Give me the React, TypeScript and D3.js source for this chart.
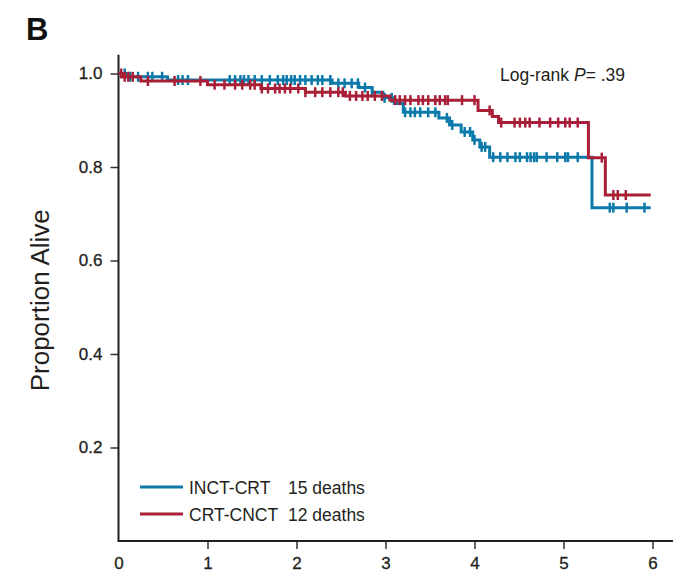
import React, { useEffect, useRef } from 'react';
import * as d3 from 'd3';

// axis ticks
const xTickValues = [0, 1, 2, 3, 4, 5, 6];
const yTickValues = [0.2, 0.4, 0.6, 0.8, 1.0];

// INCT-CRT (15 deaths)
const inctEventTimes = [0.08, 0.55, 2.4, 2.7, 2.85, 2.97, 3.1, 3.2, 3.6, 3.72, 3.85, 3.98, 4.06, 4.17, 5.32];
const inctSurvival = [0.993, 0.986, 0.979, 0.97, 0.96, 0.948, 0.936, 0.917, 0.905, 0.89, 0.875, 0.858, 0.843, 0.821, 0.713];
const inctCensorTimes = [
  0.07, 0.13, 0.22, 0.33, 0.38, 0.49, 0.67, 0.72, 0.78, 1.25, 1.31, 1.37, 1.41, 1.46, 1.53, 1.61, 1.7,
  1.79, 1.85, 1.89, 1.94, 1.98, 2.04, 2.1, 2.17, 2.24, 2.29, 2.38, 2.47, 2.54, 2.62, 2.69, 2.77, 2.85,
  2.99, 3.07, 3.22, 3.28, 3.33, 3.39, 3.48, 3.56, 3.69, 3.75, 3.89, 3.95, 4.0, 4.08, 4.12, 4.21, 4.29,
  4.37, 4.46, 4.51, 4.59, 4.63, 4.67, 4.7, 4.81, 4.93, 5.02, 5.05, 5.16, 5.52, 5.56, 5.71, 5.91,
];
const inctLastFollowUp = 5.98;

// CRT-CNCT (12 deaths)
const cnctEventTimes = [0.05, 0.25, 1.0, 1.6, 2.1, 2.55, 3.05, 4.04, 4.2, 4.27, 5.28, 5.47];
const cnctSurvival = [0.993, 0.984, 0.976, 0.968, 0.96, 0.952, 0.943, 0.921, 0.908, 0.895, 0.82, 0.74];
const cnctCensorTimes = [
  0.03, 0.07, 0.11, 0.16, 0.33, 0.63, 0.92, 1.08, 1.19, 1.31, 1.39, 1.48, 1.53, 1.61, 1.68, 1.76, 1.81,
  1.87, 1.93, 2.02, 2.1, 2.21, 2.29, 2.38, 2.47, 2.52, 2.6, 2.67, 2.74, 2.8, 2.88, 2.96, 3.11, 3.16,
  3.22, 3.28, 3.37, 3.42, 3.48, 3.56, 3.61, 3.67, 3.7, 3.86, 4.0, 4.17, 4.3, 4.45, 4.51, 4.57, 4.62,
  4.73, 4.85, 4.94, 5.02, 5.07, 5.16, 5.43, 5.56, 5.61, 5.7,
];
const cnctLastFollowUp = 5.98;

const seriesNames = ['INCT-CRT', 'CRT-CNCT'];
const seriesDeaths = ['15 deaths', '12 deaths'];
const seriesColors = ['#0b7aaa', '#a81f37'];

const W = 685;
const H = 581;
const FONT = '"Liberation Sans", Arial, Helvetica, sans-serif';
const INK = '#231f20';

const survivalAt = (times: number[], surv: number[], t: number) => {
  let s = 1;
  for (let i = 0; i < times.length; i++) if (times[i] <= t) s = surv[i];
  return s;
};

const App = () => {
  const svgRef = useRef<SVGSVGElement>(null);

  useEffect(() => {
    const svg = d3.select(svgRef.current);
    svg.selectAll('*').remove();

    const x = d3.scaleLinear().domain([0, 6]).range([118.5, 652.5]);
    const y = d3.scaleLinear().domain([0, 1]).range([541, 73.5]);

    // axes
    const xAxis = svg.append('g')
      .attr('transform', `translate(0,${y(0)})`)
      .call(d3.axisBottom(x).tickValues(xTickValues).tickFormat(d3.format('d')).tickSize(8).tickPadding(8).tickSizeOuter(0));
    xAxis.select('.domain').remove();
    xAxis.selectAll('.tick line').attr('stroke', '#333').attr('stroke-width', 1.5)
      .filter((d: any) => d === 0).remove();
    xAxis.selectAll('.tick text')
      .style('font-family', FONT).style('font-size', '17px')
      .attr('fill', INK).attr('stroke', INK).attr('stroke-width', 0.3);

    const yAxis = svg.append('g')
      .attr('transform', `translate(${x(0)},0)`)
      .call(d3.axisLeft(y).tickValues(yTickValues).tickFormat(d3.format('.1f')).tickSize(8).tickPadding(8).tickSizeOuter(0));
    yAxis.select('.domain').remove();
    yAxis.selectAll('.tick line').attr('stroke', '#333').attr('stroke-width', 1.5);
    yAxis.selectAll('.tick text')
      .style('font-family', FONT).style('font-size', '17px')
      .attr('fill', INK).attr('stroke', INK).attr('stroke-width', 0.3);

    svg.append('path')
      .attr('d', `M${x(0)},${y(1.04)}V${y(0)}H${x(6.23)}`)
      .attr('fill', 'none')
      .attr('stroke', INK)
      .attr('stroke-width', 2);

    // curves
    const line = d3.line<[number, number]>()
      .x(d => x(d[0]))
      .y(d => y(d[1]))
      .curve(d3.curveStepAfter);

    const groups = [
      { times: inctEventTimes, surv: inctSurvival, censor: inctCensorTimes, end: inctLastFollowUp },
      { times: cnctEventTimes, surv: cnctSurvival, censor: cnctCensorTimes, end: cnctLastFollowUp },
    ];

    groups.forEach((g, i) => {
      const pts: [number, number][] = [[0, 1]];
      g.times.forEach((t, k) => pts.push([t, g.surv[k]]));
      pts.push([g.end, g.surv[g.surv.length - 1]]);

      svg.append('path')
        .attr('d', line(pts))
        .attr('fill', 'none')
        .attr('stroke', seriesColors[i])
        .attr('stroke-width', 3);

      svg.append('g')
        .selectAll('line')
        .data(g.censor)
        .enter()
        .append('line')
        .attr('x1', d => x(d))
        .attr('x2', d => x(d))
        .attr('y1', d => y(survivalAt(g.times, g.surv, d)) - 5)
        .attr('y2', d => y(survivalAt(g.times, g.surv, d)) + 5)
        .attr('stroke', seriesColors[i])
        .attr('stroke-width', 2.5);
    });

    // legend
    const legend = svg.append('g');
    seriesNames.forEach((name, i) => {
      const ly = 487 + i * 27;
      legend.append('line')
        .attr('x1', 140).attr('x2', 183)
        .attr('y1', ly).attr('y2', ly)
        .attr('stroke', seriesColors[i])
        .attr('stroke-width', 3);
      legend.append('text')
        .attr('x', 189).attr('y', ly + 6.5)
        .style('font-family', FONT).style('font-size', '17.5px')
        .attr('fill', INK)
        .text(name);
      legend.append('text')
        .attr('x', 288).attr('y', ly + 6.5)
        .style('font-family', FONT).style('font-size', '17.5px')
        .attr('fill', INK)
        .text(seriesDeaths[i]);
    });

    // y label
    svg.append('text')
      .attr('transform', `translate(49,${y(0.5) - 7}) rotate(-90)`)
      .attr('text-anchor', 'middle')
      .style('font-family', FONT).style('font-size', '26px')
      .attr('fill', INK)
      .text('Proportion Alive');

    // log-rank annotation
    const lr = svg.append('text')
      .attr('x', 500).attr('y', 81)
      .style('font-family', FONT).style('font-size', '17.5px')
      .attr('fill', INK);
    lr.append('tspan').text('Log-rank ');
    lr.append('tspan').style('font-style', 'italic').text('P');
    lr.append('tspan').text('= .39');

    // panel letter
    svg.append('text')
      .attr('x', 26).attr('y', 40)
      .style('font-family', FONT).style('font-size', '31px').style('font-weight', 'bold')
      .attr('fill', '#111')
      .text('B');
  }, []);

  return (
    <svg
      ref={svgRef}
      width={W}
      height={H}
      style={{ position: 'absolute', left: 0, top: 0, background: '#fff' }}
    />
  );
};

export default App;
